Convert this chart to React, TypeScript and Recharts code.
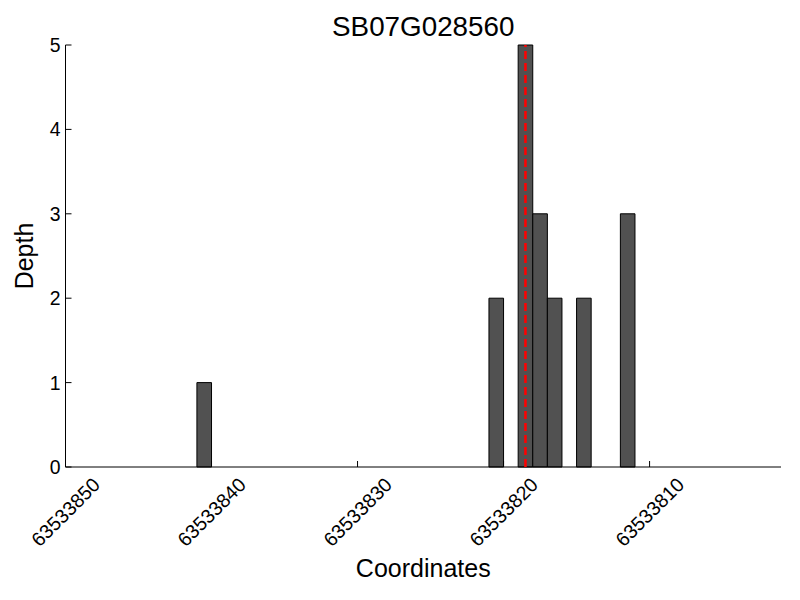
import { ComposedChart, Bar, XAxis, YAxis, ReferenceLine } from 'recharts';

const positions = [63533840, 63533820, 63533818, 63533817, 63533816, 63533814, 63533811];
const depths = [1, 2, 5, 3, 2, 2, 3];
const xTicks = [63533850, 63533840, 63533830, 63533820, 63533810];
const yTicks = [0, 1, 2, 3, 4, 5];
const xRange = [63533801, 63533850];
const markerPos = 63533818;
const title = 'SB07G028560';

const FONT = '"Liberation Sans", Arial, Helvetica, sans-serif';

// each bar covers [pos, pos + 1], so centre it on pos + 0.5
const chartData = positions.map((pos, i) => ({ mid: pos + 0.5, depth: depths[i] }));

const txt = (size: number) => ({ fontSize: size, fontFamily: FONT, fill: '#000' });

const XTick = ({ x, y, payload }: any) => (
  <text
    x={x}
    y={y}
    transform={`rotate(-45, ${x}, ${y})`}
    textAnchor="middle"
    dominantBaseline="central"
    style={txt(19.6)}
  >
    {payload.value}
  </text>
);

const YTick = ({ x, y, payload }: any) => (
  <text x={x} y={y} textAnchor="end" dominantBaseline="central" style={txt(19.4)}>
    {payload.value}
  </text>
);

export default function App() {
  return (
    <div style={{ position: 'absolute', left: 0, top: 0, width: 800, height: 600, background: '#fff', fontFamily: FONT }}>
      <div
        style={{
          position: 'absolute',
          left: 65.5,
          width: 715.5,
          top: 11,
          textAlign: 'center',
          fontSize: 27.8,
          lineHeight: '32px',
          color: '#000',
        }}
      >
        {title}
      </div>
      <ComposedChart
        width={800}
        height={600}
        data={chartData}
        margin={{ top: 45, right: 19, bottom: 0, left: 0 }}
      >
        <XAxis
          dataKey="mid"
          type="number"
          domain={xRange}
          reversed
          ticks={xTicks}
          allowDataOverflow
          height={133}
          stroke="#000"
          tickSize={-6}
          tickMargin={51}
          tick={<XTick />}
          label={{
            content: ({ viewBox }: any) => (
              <text
                x={viewBox.x + viewBox.width / 2}
                y={viewBox.y + 101}
                textAnchor="middle"
                dominantBaseline="central"
                style={txt(25)}
              >
                Coordinates
              </text>
            ),
          }}
        />
        <YAxis
          type="number"
          domain={[0, 5]}
          ticks={yTicks}
          width={65.5}
          stroke="#000"
          tickSize={-6}
          tickMargin={11}
          tick={<YTick />}
          label={{
            content: ({ viewBox }: any) => {
              const cx = viewBox.x + 24;
              const cy = viewBox.y + viewBox.height / 2;
              return (
                <text
                  x={cx}
                  y={cy}
                  transform={`rotate(-90, ${cx}, ${cy})`}
                  textAnchor="middle"
                  dominantBaseline="central"
                  style={txt(25)}
                >
                  Depth
                </text>
              );
            },
          }}
        />
        <Bar dataKey="depth" fill="#515151" stroke="#000" strokeWidth={1} barSize={14.6} isAnimationActive={false} />
        <ReferenceLine
          x={markerPos + 0.5}
          stroke="#ff0000"
          strokeWidth={2.5}
          strokeDasharray="8 4"
          ifOverflow="visible"
          zIndex={1000}
        />
      </ComposedChart>
    </div>
  );
}
